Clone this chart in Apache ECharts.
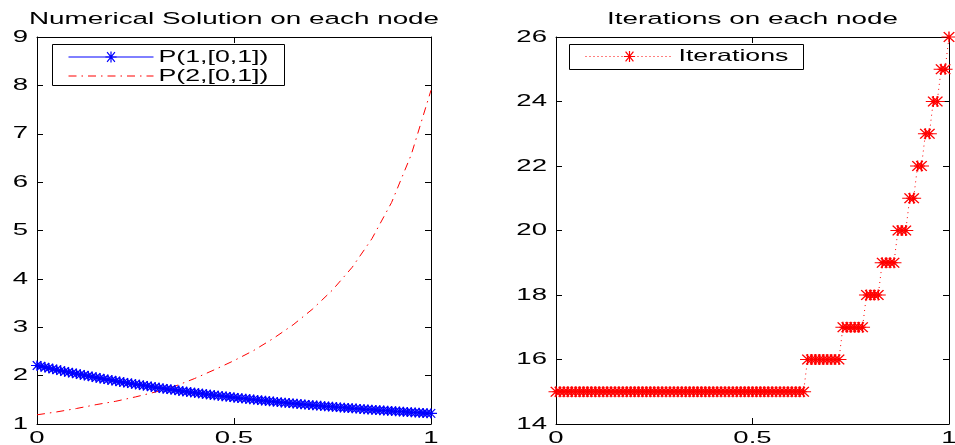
<!DOCTYPE html>
<html>
<head>
<meta charset="utf-8">
<script src="https://cdn.jsdelivr.net/npm/echarts@6/dist/echarts.min.js"></script>
<style>html,body{margin:0;padding:0;background:#fff}#c{width:955px;height:445px}</style>
</head>
<body>
<div id="c"></div>
<script>
// ---- data ----
var nodes = [0,0.01,0.02,0.03,0.04,0.05,0.06,0.07,0.08,0.09,
0.1,0.11,0.12,0.13,0.14,0.15,0.16,0.17,0.18,0.19,
0.2,0.21,0.22,0.23,0.24,0.25,0.26,0.27,0.28,0.29,
0.3,0.31,0.32,0.33,0.34,0.35,0.36,0.37,0.38,0.39,
0.4,0.41,0.42,0.43,0.44,0.45,0.46,0.47,0.48,0.49,
0.5,0.51,0.52,0.53,0.54,0.55,0.56,0.57,0.58,0.59,
0.6,0.61,0.62,0.63,0.64,0.65,0.66,0.67,0.68,0.69,
0.7,0.71,0.72,0.73,0.74,0.75,0.76,0.77,0.78,0.79,
0.8,0.81,0.82,0.83,0.84,0.85,0.86,0.87,0.88,0.89,
0.9,0.91,0.92,0.93,0.94,0.95,0.96,0.97,0.98,0.99,
1];
var p1Values = [2.210,2.192,2.174,2.156,2.138,2.121,2.104,2.087,2.071,2.054,
2.038,2.022,2.007,1.991,1.976,1.961,1.946,1.932,1.917,1.903,
1.889,1.875,1.861,1.848,1.835,1.822,1.809,1.796,1.784,1.771,
1.759,1.747,1.735,1.723,1.712,1.701,1.689,1.678,1.667,1.657,
1.646,1.636,1.625,1.615,1.605,1.595,1.586,1.576,1.567,1.557,
1.548,1.539,1.530,1.521,1.512,1.504,1.495,1.487,1.479,1.471,
1.463,1.455,1.447,1.439,1.432,1.424,1.417,1.410,1.403,1.395,
1.389,1.382,1.375,1.368,1.362,1.355,1.349,1.342,1.336,1.330,
1.324,1.318,1.312,1.306,1.301,1.295,1.289,1.284,1.279,1.273,
1.268,1.263,1.258,1.253,1.248,1.243,1.238,1.233,1.228,1.224,
1.219];
var p2Nodes = [0,0.05,0.1,0.15,0.2,0.25,0.3,0.35,0.4,0.45,0.5,0.55,0.6,0.65,0.7,0.75,0.8,0.85,0.9,0.95,1];
var p2Values = [1.19,1.25,1.32,1.40,1.47,1.56,1.66,1.78,1.94,2.12,2.31,2.52,2.77,3.05,3.38,3.77,4.24,4.83,5.58,6.57,7.90];
var iterations = [15,15,15,15,15,15,15,15,15,15,
15,15,15,15,15,15,15,15,15,15,
15,15,15,15,15,15,15,15,15,15,
15,15,15,15,15,15,15,15,15,15,
15,15,15,15,15,15,15,15,15,15,
15,15,15,15,15,15,15,15,15,15,
15,15,15,15,16,16,16,16,16,16,
16,16,16,17,17,17,17,17,17,18,
18,18,18,19,19,19,19,20,20,20,
21,21,22,22,23,23,24,24,25,25,
26];
var xTicks = [0, 0.5, 1];
var xTickLabels = ['0', '0.5', '1'];
var yLeftTickLabels = ['1','2','3','4','5','6','7','8','9'];
var yRightTickLabels = ['14','16','18','20','22','24','26'];
var titles = ['Numerical Solution on each node', 'Iterations on each node'];
var seriesNames = ['P(1,[0,1])', 'P(2,[0,1])', 'Iterations'];

// ---- chart ----
var FONT = 'Liberation Sans';
var SX = 1.62;
var STAR = 'path://M-10,0L10,0M0,-8L0,8M-7,-7L7,7M-7,7L7,-7';
var BLUE = '#0000ff', RED = '#ff0000';

function lookup(ticks, labels) {
  return function (v) {
    for (var i = 0; i < ticks.length; i++) if (Math.abs(ticks[i] - v) < 1e-9) return labels[i];
    return '';
  };
}
function xAx(grid, pos, showLabel) {
  return {
    type: 'value', gridIndex: grid, position: pos, min: 0, max: 1, interval: 0.5,
    axisLine: {show: true, onZero: false, lineStyle: {color: '#000', width: 1}},
    axisTick: {show: true, inside: true, length: 6, lineStyle: {color: '#000', width: 1}},
    axisLabel: {show: showLabel, margin: 6, color: '#000', fontFamily: FONT, fontSize: 17,
      formatter: lookup(xTicks, xTickLabels)},
    splitLine: {show: false}
  };
}
function yAx(grid, pos, showLabel, mn, mx, iv, labels) {
  var ticks = labels.map(function (s) { return Number(s); });
  return {
    type: 'value', gridIndex: grid, position: pos, min: mn, max: mx, interval: iv,
    axisLine: {show: true, onZero: false, lineStyle: {color: '#000', width: 1}},
    axisTick: {show: true, inside: true, length: 6, lineStyle: {color: '#000', width: 1}},
    axisLabel: {show: showLabel, margin: 9, color: '#000', fontFamily: FONT, fontSize: 17,
      formatter: lookup(ticks, labels)},
    splitLine: {show: false}
  };
}

var chart = echarts.init(document.getElementById('c'), null, {renderer: 'canvas'});
var legendText = {fontFamily: FONT, fontSize: 16.5, lineHeight: 19, color: '#000'};
var option = {
  animation: false,
  backgroundColor: '#fff',
  textStyle: {fontFamily: FONT, color: '#000'},
  grid: [
    {left: 37, top: 37, width: 394, height: 387, containLabel: false, outerBoundsMode: 'none'},
    {left: 556, top: 37, width: 393, height: 387, containLabel: false, outerBoundsMode: 'none'}
  ],
  xAxis: [xAx(0, 'bottom', true), xAx(0, 'top', false), xAx(1, 'bottom', true), xAx(1, 'top', false)],
  yAxis: [
    yAx(0, 'left', true, 1, 9, 1, yLeftTickLabels), yAx(0, 'right', false, 1, 9, 1, yLeftTickLabels),
    yAx(1, 'left', true, 14, 26, 2, yRightTickLabels), yAx(1, 'right', false, 14, 26, 2, yRightTickLabels)
  ],
  legend: [
    {data: [
        {name: seriesNames[0], itemStyle: {color: BLUE, borderColor: BLUE, borderWidth: 1.2},
          lineStyle: {color: BLUE, width: 1}},
        {name: seriesNames[1], itemStyle: {color: 'rgba(0,0,0,0)', borderColor: 'rgba(0,0,0,0)', borderWidth: 0, opacity: 0},
          lineStyle: {color: RED, width: 1, type: [8, 5, 1.5, 5]}}
      ],
      orient: 'vertical', left: 68, top: 47.5, padding: 0,
      itemWidth: 85, itemHeight: 14, itemGap: 0, selectedMode: false, z: 10,
      textStyle: legendText},
    {data: [
        {name: seriesNames[2], itemStyle: {color: RED, borderColor: RED, borderWidth: 1.2},
          lineStyle: {color: RED, width: 1, type: [1, 3]}}
      ],
      orient: 'vertical', left: 585, top: 47, padding: 0,
      itemWidth: 88, itemHeight: 14, itemGap: 0, selectedMode: false, z: 10,
      textStyle: legendText}
  ],
  graphic: [
    {type: 'rect', z: 8, shape: {x: 52.5, y: 44.5, width: 232, height: 41}, style: {fill: '#fff', stroke: '#000', lineWidth: 1}},
    {type: 'rect', z: 8, shape: {x: 569.5, y: 44.5, width: 234, height: 25}, style: {fill: '#fff', stroke: '#000', lineWidth: 1}},
    {type: 'text', z: 8, x: 234, y: 19.5, style: {text: titles[0], fill: '#000', font: '17.2px "Liberation Sans"', align: 'center', verticalAlign: 'middle'}},
    {type: 'text', z: 8, x: 752.5, y: 19.5, style: {text: titles[1], fill: '#000', font: '17.2px "Liberation Sans"', align: 'center', verticalAlign: 'middle'}}
  ],
  series: [
    {name: seriesNames[0], type: 'line', xAxisIndex: 0, yAxisIndex: 0, clip: false,
      data: nodes.map(function (x, i) { return [x, p1Values[i]]; }),
      symbol: STAR, symbolSize: [12, 10], showAllSymbol: true,
      itemStyle: {color: BLUE, borderColor: BLUE, borderWidth: 1.2},
      lineStyle: {color: BLUE, width: 1}},
    {name: seriesNames[1], type: 'line', xAxisIndex: 0, yAxisIndex: 0, clip: false,
      data: p2Nodes.map(function (x, i) { return [x, p2Values[i]]; }),
      symbol: 'none', showSymbol: false,
      itemStyle: {color: RED},
      lineStyle: {color: RED, width: 1, type: [8, 5, 1.5, 5]}},
    {name: seriesNames[2], type: 'line', xAxisIndex: 2, yAxisIndex: 2, clip: false,
      data: nodes.map(function (x, i) { return [x, iterations[i]]; }),
      symbol: STAR, symbolSize: [15, 11], showAllSymbol: true,
      itemStyle: {color: RED, borderColor: RED, borderWidth: 1.2},
      lineStyle: {color: RED, width: 1, type: [1, 4]}}
  ]
};
chart.setOption(option);

// widen text horizontally (the reference uses a stretched Helvetica rendering)
function stretchTexts() {
  try {
    var zr = chart.getZr();
    var roots = zr.storage.getRoots();
    var visit = function (el) {
      if (el && el.type === 'text' && !el.__sx) {
        el.__sx = true;
        var st = el.style || {};
        el.originX = st.x || 0;
        el.originY = st.y || 0;
        el.scaleX = (el.scaleX || 1) * SX;
        if (el.markRedraw) el.markRedraw();
      }
    };
    roots.forEach(function (r) { visit(r); if (r.traverse) r.traverse(visit); });
    zr.refresh();
  } catch (e) {}
}
stretchTexts();
setTimeout(stretchTexts, 50);
</script>
</body>
</html>
